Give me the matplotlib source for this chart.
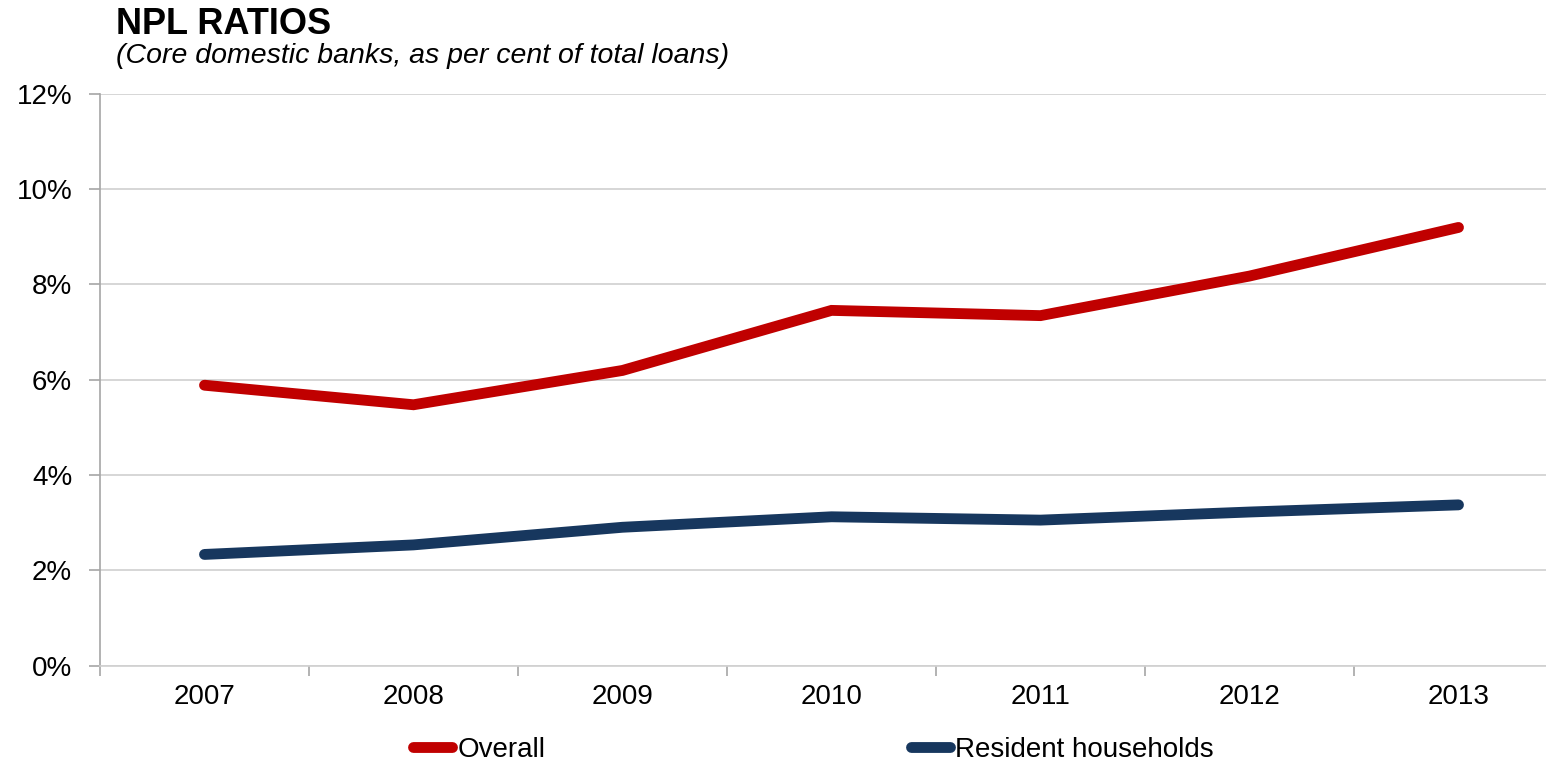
import matplotlib.pyplot as plt
from matplotlib.ticker import FuncFormatter, FixedLocator
import numpy as np

plt.rcParams['font.family'] = ['Liberation Sans', 'DejaVu Sans']

years = ['2007', '2008', '2009', '2010', '2011', '2012', '2013']
overall = [5.88, 5.47, 6.19, 7.45, 7.34, 8.17, 9.19]
households = [2.33, 2.53, 2.90, 3.12, 3.05, 3.22, 3.37]

red = '#C00000'
navy = '#17375E'
grid_col = '#D0D0D0'
axis_col = '#A6A6A6'

fig = plt.figure(figsize=(15.46, 7.61), dpi=100)
# axes run past the right edge of the figure, like the source layout
ax = fig.add_axes([100 / 1546, 95.5 / 761, 1463 / 1546, 572 / 761])

x = np.arange(len(years))
l1, = ax.plot(x, overall, color=red, lw=7.8, solid_capstyle='round',
              solid_joinstyle='miter', label='Overall', zorder=3)
l2, = ax.plot(x, households, color=navy, lw=7.8, solid_capstyle='round',
              solid_joinstyle='miter', label='Resident households', zorder=3)

ax.set_xlim(-0.5, len(years) - 0.5)
ax.set_ylim(0, 12)
ax.set_yticks(np.arange(0, 13, 2))
ax.yaxis.set_major_formatter(FuncFormatter(lambda v, p: f'{v:.0f}%'))
ax.set_xticks(x)
ax.set_xticklabels(years)
ax.xaxis.set_minor_locator(FixedLocator(np.arange(-0.5, len(years), 1.0)))

ax.grid(axis='y', color=grid_col, lw=1.2, zorder=0)
for side in ['top', 'right']:
    ax.spines[side].set_visible(False)
ax.spines['left'].set_color(axis_col)
ax.spines['bottom'].set_color(grid_col)
ax.spines['left'].set_linewidth(1.2)
ax.spines['bottom'].set_linewidth(1.2)

ax.tick_params(axis='y', length=8, width=1.2, color=axis_col, pad=12,
               labelsize=20, labelcolor='black')
ax.tick_params(axis='x', which='major', length=0, pad=13, labelsize=20)
ax.tick_params(axis='x', which='minor', length=7, width=1.2, color=axis_col)

fig.text(116 / 1546, 1 - 34 / 761, 'NPL RATIOS', fontsize=26,
         fontweight='bold', ha='left', va='baseline')
fig.text(116 / 1546, 1 - 63 / 761,
         '(Core domestic banks, as per cent of total loans)', fontsize=20.5,
         style='italic', ha='left', va='baseline')

# legend entries sit apart at the bottom, one per series
for line, xpos in [(l1, 413), (l2, 911)]:
    fig.legend(handles=[line], loc='center left',
               bbox_to_anchor=(xpos / 1546, 1 - 750 / 761), frameon=False,
               fontsize=20, handlelength=1.4, handletextpad=0.2,
               borderpad=0, borderaxespad=0)

fig.savefig('out.png', dpi=100)
